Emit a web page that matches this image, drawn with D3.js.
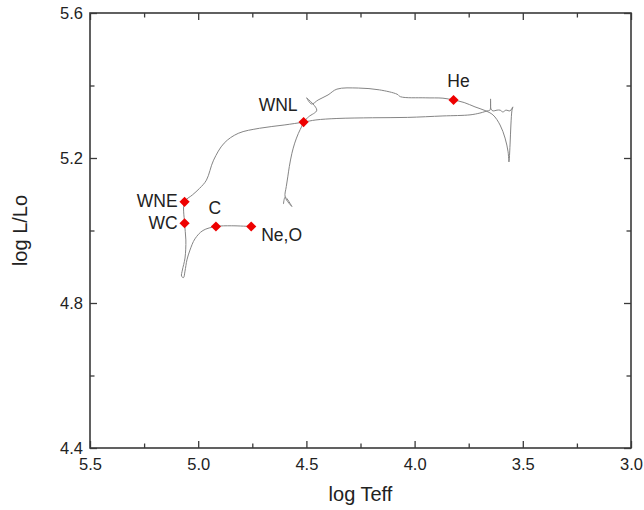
<!DOCTYPE html>
<html>
<head>
<meta charset="utf-8">
<script src="https://cdn.jsdelivr.net/npm/d3@7"></script>
<style>
  html, body { margin: 0; padding: 0; background: #fff; }
  svg { display: block; font-family: "Liberation Sans", Arial, sans-serif; }
</style>
</head>
<body>
<svg id="chart" width="644" height="510"></svg>
<script>
// ---- Data ----
// Evolutionary track (log Teff, log L/Lo), in order along the track
const trackTeff = [
  4.606, 4.598, 4.567, 4.598, 4.593, 4.586, 4.579, 4.567, 4.554, 4.537, 4.521, 4.513, 4.489, 4.452,
  4.499, 4.476, 4.446, 4.400, 4.359, 4.260, 4.163, 4.081, 4.065, 3.951, 3.869, 3.820, 3.771, 3.721, 3.675,
  3.638, 3.605, 3.582, 3.568, 3.564, 3.559, 3.555, 3.550, 3.546,
  3.559, 3.578, 3.592, 3.605, 3.619, 3.638, 3.647, 3.649, 3.652, 3.665, 3.675,
  3.698, 3.744, 3.869, 4.032, 4.195, 4.359, 4.456, 4.513, 4.603, 4.717, 4.815, 4.880, 4.929, 4.962, 4.994, 5.027, 5.063,
  5.063, 5.057, 5.061, 5.073, 5.077, 5.068, 5.061, 5.052, 5.038, 5.015, 4.978, 4.918, 4.847, 4.755
];
const trackLum = [
  5.073, 5.092, 5.066, 5.092, 5.121, 5.148, 5.176, 5.213, 5.241, 5.268, 5.288, 5.299, 5.314, 5.332,
  5.366, 5.349, 5.360, 5.374, 5.390, 5.393, 5.388, 5.376, 5.369, 5.366, 5.365, 5.360, 5.353, 5.341, 5.331,
  5.319, 5.291, 5.255, 5.217, 5.189, 5.236, 5.291, 5.332, 5.341,
  5.330, 5.332, 5.327, 5.332, 5.332, 5.330, 5.335, 5.363, 5.332, 5.330, 5.328,
  5.324, 5.319, 5.316, 5.312, 5.311, 5.309, 5.305, 5.299, 5.291, 5.282, 5.268, 5.241, 5.194, 5.139, 5.116, 5.098, 5.079,
  5.020, 4.974, 4.924, 4.891, 4.874, 4.870, 4.888, 4.919, 4.946, 4.977, 5.000, 5.011, 5.013, 5.011
];

// Marked phases
const phaseNames = ["He", "WNL", "WNE", "WC", "C", "Ne,O"];
const phaseTeff  = [3.820, 4.513, 5.063, 5.063, 4.918, 4.755];
const phaseLum   = [5.360, 5.299, 5.079, 5.020, 5.011, 5.011];

// Axes
const xDomain = [5.5, 3.0];
const yDomain = [4.4, 5.6];
const xMajorTicks = [5.5, 5.0, 4.5, 4.0, 3.5, 3.0];
const xMinorTicks = [5.25, 4.75, 4.25, 3.75, 3.25];
const yMajorTicks = [4.4, 4.8, 5.2, 5.6];
const yMinorTicks = [4.6, 5.0, 5.4];
const xTitle = "log Teff";
const yTitle = "log L/Lo";

// ---- Layout ----
const margin = { left: 90, top: 13 };
const iw = 631 - margin.left, ih = 448 - margin.top;
const frameColor = "#3a3a3a";
const textColor = "#222";

const svg = d3.select("#chart");
const g = svg.append("g").attr("transform", `translate(${margin.left},${margin.top})`);

const x = d3.scaleLinear().domain(xDomain).range([0, iw]);
const y = d3.scaleLinear().domain(yDomain).range([ih, 0]);

function styleAxis(sel, labels) {
  sel.select(".domain").remove();
  sel.selectAll(".tick line").attr("stroke", frameColor).attr("stroke-width", 1.3);
  sel.selectAll(".tick text")
    .attr("fill", textColor)
    .style("font-size", labels ? "16.5px" : "0px");
}

// Bottom axis
g.append("g").attr("transform", `translate(0,${ih})`)
  .call(d3.axisBottom(x).tickValues(xMajorTicks).tickFormat(d3.format(".1f")).tickSize(-7).tickPadding(10))
  .call(s => styleAxis(s, true));
g.append("g").attr("transform", `translate(0,${ih})`)
  .call(d3.axisBottom(x).tickValues(xMinorTicks).tickFormat("").tickSize(-4.5))
  .call(s => styleAxis(s, false));
// Top axis
g.append("g")
  .call(d3.axisTop(x).tickValues(xMajorTicks).tickFormat("").tickSize(-7))
  .call(s => styleAxis(s, false));
g.append("g")
  .call(d3.axisTop(x).tickValues(xMinorTicks).tickFormat("").tickSize(-4.5))
  .call(s => styleAxis(s, false));
// Left axis
g.append("g")
  .call(d3.axisLeft(y).tickValues(yMajorTicks).tickFormat(d3.format(".1f")).tickSize(-7).tickPadding(7))
  .call(s => styleAxis(s, true));
g.append("g")
  .call(d3.axisLeft(y).tickValues(yMinorTicks).tickFormat("").tickSize(-4.5))
  .call(s => styleAxis(s, false));
// Right axis
g.append("g").attr("transform", `translate(${iw},0)`)
  .call(d3.axisRight(y).tickValues(yMajorTicks).tickFormat("").tickSize(-7))
  .call(s => styleAxis(s, false));
g.append("g").attr("transform", `translate(${iw},0)`)
  .call(d3.axisRight(y).tickValues(yMinorTicks).tickFormat("").tickSize(-4.5))
  .call(s => styleAxis(s, false));

// Frame
g.append("rect").attr("x", 0).attr("y", 0).attr("width", iw).attr("height", ih)
  .attr("fill", "none").attr("stroke", frameColor).attr("stroke-width", 1.6);

// Track
const track = trackTeff.map((t, i) => [t, trackLum[i]]);
g.append("path")
  .datum(track)
  .attr("fill", "none")
  .attr("stroke", "#858585")
  .attr("stroke-width", 1)
  .attr("stroke-linejoin", "round")
  .attr("d", d3.line().x(d => x(d[0])).y(d => y(d[1])).curve(d3.curveCatmullRom.alpha(0.5)));

// Markers
const phases = phaseNames.map((n, i) => ({ name: n, t: phaseTeff[i], l: phaseLum[i] }));
g.selectAll(".mk").data(phases).enter().append("path")
  .attr("class", "mk")
  .attr("d", d3.symbol(d3.symbolSquare, 52)())
  .attr("transform", d => `translate(${x(d.t)},${y(d.l)}) rotate(45)`)
  .attr("fill", "#ee0000");

// Labels
const labelPlacement = {
  "He":   { dx: 5,  dy: -13, anchor: "middle" },
  "WNL":  { dx: -6, dy: -11, anchor: "end" },
  "WNE":  { dx: -7, dy: 5,   anchor: "end" },
  "WC":   { dx: -7, dy: 6,   anchor: "end" },
  "C":    { dx: -1, dy: -13, anchor: "middle" },
  "Ne,O": { dx: 10, dy: 14,  anchor: "start" }
};
g.selectAll(".lb").data(phases).enter().append("text")
  .attr("class", "lb")
  .attr("x", d => x(d.t) + labelPlacement[d.name].dx)
  .attr("y", d => y(d.l) + labelPlacement[d.name].dy)
  .attr("text-anchor", d => labelPlacement[d.name].anchor)
  .attr("fill", textColor)
  .style("font-size", "17.5px")
  .text(d => d.name);

// Axis titles
svg.append("text")
  .attr("x", margin.left + iw / 2).attr("y", 501)
  .attr("text-anchor", "middle").attr("fill", textColor)
  .style("font-size", "20px")
  .text(xTitle);
svg.append("text")
  .attr("transform", `translate(27,${margin.top + ih / 2}) rotate(-90)`)
  .attr("text-anchor", "middle").attr("fill", textColor)
  .style("font-size", "20px")
  .text(yTitle);
</script>
</body>
</html>
